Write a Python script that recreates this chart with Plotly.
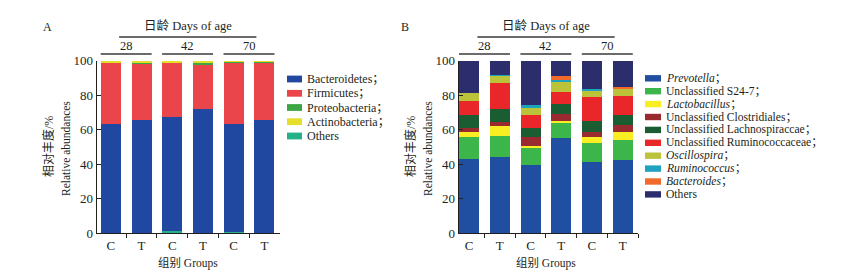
import plotly.graph_objects as go

W, H = 843, 274

# ---------------- data ----------------
groups = ["28", "42", "70"]
categories = ["28C", "28T", "42C", "42T", "70C", "70T"]
tick_labels = ["C", "T", "C", "T", "C", "T"]

# Panel A (phylum level), stacked bottom -> top: Others, Bacteroidetes, Firmicutes, Proteobacteria, Actinobacteria
phyla_names = ["Bacteroidetes；", "Firmicutes；", "Proteobacteria；", "Actinobacteria；", "Others"]
phyla_colors = ["#2148a0", "#e9454b", "#3aa644", "#e5df2b", "#25b08a"]
bacteroidetes = [63.2, 65.3, 65.8, 71.9, 62.4, 65.3]
firmicutes = [35.8, 33.2, 31.7, 26.3, 36.1, 33.8]
proteobacteria = [0.1, 0.6, 0.1, 0.9, 0.8, 0.8]
actinobacteria = [0.9, 0.9, 0.8, 0.9, 0.1, 0.1]
others_a = [0.0, 0.0, 1.6, 0.0, 0.6, 0.0]

# Panel B (genus level), stacked bottom -> top in legend order
genus_names = ["<i>Prevotella</i>；", "Unclassified S24-7；", "<i>Lactobacillus</i>；",
               "Unclassified Clostridiales；", "Unclassified Lachnospiraccae；",
               "Unclassified Ruminococcaceae；", "<i>Oscillospira</i>；",
               "<i>Ruminococcus</i>；", "<i>Bacteroides</i>；", "Others"]
genus_colors = ["#204ea1", "#3cb64b", "#f8ee22", "#992a2f", "#1b5d33",
                "#e9262a", "#bac33a", "#1da2c0", "#f1692c", "#2c2d6c"]
prevotella = [43.0, 44.3, 39.5, 55.0, 41.0, 42.4]
s24_7 = [12.8, 12.0, 10.2, 9.2, 11.3, 11.5]
lactobacillus = [2.6, 5.8, 0.8, 1.0, 3.2, 4.9]
clostridiales = [2.6, 2.5, 5.3, 3.9, 3.3, 3.8]
lachnospiraccae = [7.4, 7.5, 5.2, 5.7, 6.4, 5.8]
ruminococcaceae = [8.2, 14.8, 7.4, 7.2, 13.5, 11.3]
oscillospira = [4.7, 4.6, 4.9, 6.3, 4.5, 4.3]
ruminococcus = [0.0, 0.3, 0.8, 0.3, 0.3, 0.3]
bacteroides = [0.0, 0.0, 0.0, 2.3, 0.0, 0.3]
others_b = [18.7, 8.2, 25.9, 9.1, 16.5, 15.4]

y_ticks = [0, 20, 40, 60, 80, 100]

# ---------------- styling helpers ----------------
FONT = "Liberation Serif, 'Noto Sans CJK SC', serif"
INK = "#231f20"


def px2x(px):
    return px / W


def px2y(px):
    return 1 - px / H


fig = go.Figure()

# Panel A traces (Others at bottom of stack)
a_stack = [(others_a, phyla_colors[4]), (bacteroidetes, phyla_colors[0]), (firmicutes, phyla_colors[1]),
           (proteobacteria, phyla_colors[2]), (actinobacteria, phyla_colors[3])]
for vals, col in a_stack:
    fig.add_trace(go.Bar(x=categories, y=vals, marker=dict(color=col, line=dict(width=0)),
                         xaxis="x", yaxis="y", showlegend=False, width=0.65))

b_series = [prevotella, s24_7, lactobacillus, clostridiales, lachnospiraccae,
            ruminococcaceae, oscillospira, ruminococcus, bacteroides, others_b]
for vals, col in zip(b_series, genus_colors):
    fig.add_trace(go.Bar(x=categories, y=vals, marker=dict(color=col, line=dict(width=0)),
                         xaxis="x2", yaxis="y2", showlegend=False, width=0.65))

ydom = [px2y(233.3), px2y(60.5)]
xa_dom = [px2x(96.7), px2x(279.7)]
xb_dom = [px2x(458.7), px2x(638.0)]

xaxis_common = dict(type="category", categoryorder="array", categoryarray=categories,
                    tickmode="array", tickvals=categories, ticktext=tick_labels,
                    tickson="boundaries", ticks="outside", ticklen=4, tickcolor=INK,
                    showline=True, linecolor=INK, linewidth=1.2, showgrid=False, zeroline=False,
                    automargin=False,
                    tickfont=dict(family=FONT, size=13, color=INK))
yaxis_common = dict(range=[0, 100], tickmode="array", tickvals=y_ticks, ticks="inside", ticklen=4,
                    tickcolor=INK, showline=True, linecolor=INK, linewidth=1.2, showgrid=False,
                    zeroline=False, automargin=False,
                    tickfont=dict(family=FONT, size=13, color=INK), domain=ydom)

fig.update_layout(
    template="none",
    width=W, height=H, autosize=False,
    margin=dict(l=0, r=0, t=0, b=0, pad=0),
    paper_bgcolor="white", plot_bgcolor="white",
    barmode="stack", bargap=0.35,
    showlegend=False,
    xaxis=dict(domain=xa_dom, range=[-0.46, 5.5], anchor="y", **xaxis_common),
    yaxis=dict(anchor="x", **yaxis_common),
    xaxis2=dict(domain=xb_dom, range=[-0.34, 5.5], anchor="y2", **xaxis_common),
    yaxis2=dict(anchor="x2", **yaxis_common),
    font=dict(family=FONT, color=INK),
)

shapes = []
annotations = []


def note(text, x, y, xref="paper", size=12.5, xanchor="center", angle=0):
    annotations.append(dict(text=text, x=x, y=y, xref=xref, yref="paper", showarrow=False,
                            xanchor=xanchor, yanchor="middle", textangle=angle,
                            font=dict(family=FONT, size=size, color=INK)))


for xref, letter, letter_x in [("x", "A", 47), ("x2", "B", 405)]:
    note(letter, px2x(letter_x), px2y(27), size=12)
    note("日龄 Days of age", 2.5, px2y(26), xref=xref, size=12.5)
    shapes.append(dict(type="line", xref=xref, yref="paper", x0=0.27, x1=4.74,
                       y0=px2y(37), y1=px2y(37), line=dict(color="#3a3a3a", width=1.3)))
    for gi, g in enumerate(groups):
        c = 2 * gi
        shapes.append(dict(type="line", xref=xref, yref="paper", x0=c - 0.33, x1=c + 1.33,
                           y0=px2y(54), y1=px2y(54), line=dict(color="#3a3a3a", width=1.3)))
        note(g, c + 0.5, px2y(46), xref=xref, size=12.5)
    note("组别 Groups", 2.5, px2y(263), xref=xref, size=11.5)

# y titles
for base in [0, 362]:
    note("相对丰度/%", px2x(48 + base), px2y(147), size=12, angle=-90)
    note("Relative abundances", px2x(66 + base), px2y(149), size=11.5, angle=-90)

# Legend A
legend_a_rows = [79, 93.3, 107.5, 121.7, 136]
for name, col, yc in zip(phyla_names, phyla_colors, legend_a_rows):
    shapes.append(dict(type="rect", xref="paper", yref="paper", x0=px2x(287), x1=px2x(302),
                       y0=px2y(yc + 3.4), y1=px2y(yc - 3.4), fillcolor=col, line=dict(width=0)))
    note(name, px2x(305), px2y(yc), size=12, xanchor="left")

# Legend B
for i, (name, col) in enumerate(zip(genus_names, genus_colors)):
    yc = 78.3 + i * 12.9
    shapes.append(dict(type="rect", xref="paper", yref="paper", x0=px2x(645), x1=px2x(661),
                       y0=px2y(yc + 3.2), y1=px2y(yc - 3.2), fillcolor=col, line=dict(width=0)))
    note(name, px2x(663.5), px2y(yc), size=11.6, xanchor="left")

fig.update_layout(shapes=shapes, annotations=annotations)
fig.write_html("out.html", config={"displayModeBar": False},
               post_script="document.body.style.margin='0';")
